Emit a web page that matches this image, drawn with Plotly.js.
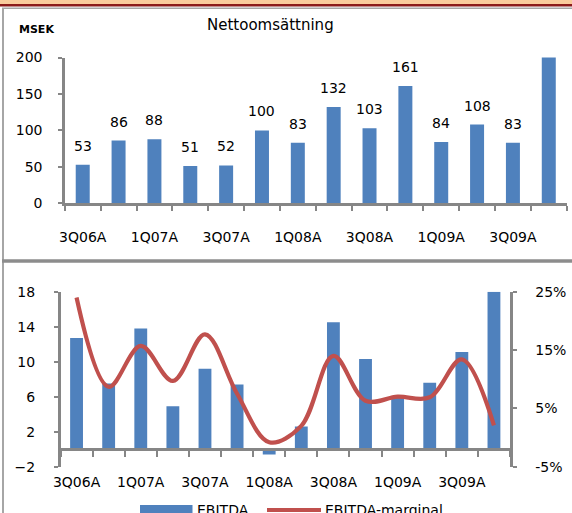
<!DOCTYPE html>
<html>
<head>
<meta charset="utf-8">
<script src="https://cdn.plot.ly/plotly-3.0.1.min.js"></script>
<style>
html,body{margin:0;padding:0;background:#fff;}
#chart{width:572px;height:513px;}
</style>
</head>
<body>
<div id="chart"></div>
<script>
// ---- data ----
const categories = ["3Q06A","4Q06A","1Q07A","2Q07A","3Q07A","4Q07A","1Q08A","2Q08A","3Q08A","4Q08A","1Q09A","2Q09A","3Q09A","4Q09A"];
const netSales = [53, 86, 88, 51, 52, 100, 83, 132, 103, 161, 84, 108, 83, 857];
const ebitda = [12.7, 7.5, 13.8, 4.9, 9.2, 7.4, -0.6, 2.6, 14.5, 10.3, 6.0, 7.6, 11.1, 18.0];
const ebitdaMargin = [24.0, 8.7, 15.7, 9.7, 17.7, 7.5, -0.8, 2.0, 14.0, 6.3, 7.0, 6.9, 13.4, 2.1];
const topTicks = [0, 50, 100, 150, 200];
const leftTicks = [-2, 2, 6, 10, 14, 18];
const rightTicks = [-5, 5, 15, 25];

// ---- helpers ----
const W = 572, H = 513;
const FONT = "'DejaVu Sans', Verdana, sans-serif";
const AX = "#868686";
const BLUE = "#4F81BD";
const RED = "#C0504D";
const px = v => v / W;
const py = v => 1 - v / H;
const idx = categories.map((c, i) => i);
const labelIdx = idx.filter(i => i % 2 === 0);

const topRange = [0, 200];
const botRange = [-2, 18];
const rightRange = [-5, 25];
const botDomain = [py(466.7), py(291.7)];
const zeroPos = botDomain[0] + (0 - botRange[0]) / (botRange[1] - botRange[0]) * (botDomain[1] - botDomain[0]);

const tickFont = {family: FONT, size: 14, color: "#000"};

const traces = [
  {type: "bar", x: idx, y: netSales, xaxis: "x", yaxis: "y", width: 0.39,
   marker: {color: BLUE}, hoverinfo: "skip", showlegend: false},
  {type: "bar", x: idx, y: ebitda, xaxis: "x2", yaxis: "y2", width: 0.40,
   marker: {color: BLUE}, name: "EBITDA", showlegend: false},
  {type: "scatter", mode: "lines", x: idx, y: ebitdaMargin, xaxis: "x2", yaxis: "y3",
   line: {color: RED, width: 4.2, shape: "spline", smoothing: 1}, name: "EBITDA-marginal", showlegend: false}
];

const annotations = netSales
  .map((v, i) => ({v, i}))
  .filter(o => o.v <= topRange[1])
  .map(o => ({x: o.i, y: o.v, xref: "x", yref: "y", text: String(o.v), showarrow: false,
    yanchor: "bottom", yshift: 9, font: {family: FONT, size: 14, color: "#000"}}));

annotations.push(
  {xref: "paper", yref: "paper", x: px(270), y: py(25), text: "Nettoomsättning", showarrow: false,
   xanchor: "center", yanchor: "middle", font: {family: FONT, size: 15, color: "#000"}},
  {xref: "paper", yref: "paper", x: px(17), y: py(29), text: "<b>MSEK</b>", showarrow: false,
   xanchor: "left", yanchor: "middle", font: {family: FONT, size: 11, color: "#000"}},
  {xref: "paper", yref: "paper", x: px(195), y: py(510), text: "EBITDA", showarrow: false,
   xanchor: "left", yanchor: "middle", font: {family: FONT, size: 14, color: "#000"}},
  {xref: "paper", yref: "paper", x: px(323), y: py(510), text: "EBITDA-marginal", showarrow: false,
   xanchor: "left", yanchor: "middle", font: {family: FONT, size: 14, color: "#000"}}
);

const shapes = [
  {type: "rect", xref: "paper", yref: "paper", x0: 0, x1: 1, y0: py(4), y1: 1, fillcolor: "#F9CB9C", line: {width: 0}},
  {type: "rect", xref: "paper", yref: "paper", x0: 0, x1: 1, y0: py(6.5), y1: py(4), fillcolor: "#8B1A1A", line: {width: 0}},
  {type: "line", xref: "paper", yref: "paper", x0: px(2), x1: 1, y0: py(8.3), y1: py(8.3), line: {color: "#A6A6A6", width: 1.6}},
  {type: "line", xref: "paper", yref: "paper", x0: px(3), x1: px(3), y0: py(8), y1: 0, line: {color: "#A6A6A6", width: 2}},
  {type: "line", xref: "paper", yref: "paper", x0: px(2), x1: 1, y0: py(261), y1: py(261), line: {color: "#8C8C8C", width: 3.5}},
  // legend swatches
  {type: "rect", xref: "paper", yref: "paper", x0: px(140), x1: px(192.5), y0: py(515), y1: py(505), fillcolor: BLUE, line: {width: 0}},
  {type: "line", xref: "paper", yref: "paper", x0: px(267), x1: px(321), y0: py(510), y1: py(510), line: {color: RED, width: 4.2}}
];

const minorBoundaries = idx.concat([categories.length]).map(i => i - 0.5);

const layout = {
  width: W, height: H,
  margin: {l: 0, r: 0, t: 0, b: 0, autoexpand: false},
  paper_bgcolor: "#fff", plot_bgcolor: "rgba(0,0,0,0)",
  showlegend: false,
  font: {family: FONT, size: 14, color: "#000"},
  xaxis: {
    domain: [px(64.8), px(566.7)], anchor: "y", range: [-0.5, categories.length - 0.5],
    tickmode: "array", tickvals: labelIdx, ticktext: labelIdx.map(i => categories[i]),
    ticks: "", ticklabelstandoff: 19, tickfont: tickFont,
    minor: {tickmode: "array", tickvals: minorBoundaries, ticks: "outside", ticklen: 5, tickwidth: 2, tickcolor: AX},
    showline: true, linecolor: AX, linewidth: 2.5, showgrid: false, zeroline: false, fixedrange: true
  },
  yaxis: {
    domain: [py(203.3), py(57.5)], anchor: "x", range: topRange,
    tickmode: "array", tickvals: topTicks, ticks: "outside", ticklen: 4, tickwidth: 2, tickcolor: AX,
    ticklabelstandoff: 13, tickfont: tickFont,
    showline: true, linecolor: AX, linewidth: 2.5, showgrid: false, zeroline: false, fixedrange: true
  },
  xaxis2: {
    domain: [px(60.5), px(510)], anchor: "free", position: zeroPos, range: [-0.5, categories.length - 0.5],
    tickmode: "array", tickvals: labelIdx, ticktext: labelIdx.map(i => categories[i]),
    ticks: "", ticklabelstandoff: 19, tickfont: tickFont,
    minor: {tickmode: "array", tickvals: minorBoundaries, ticks: "outside", ticklen: 6, tickwidth: 2, tickcolor: AX},
    showline: true, linecolor: AX, linewidth: 2.5, showgrid: false, zeroline: false, fixedrange: true
  },
  yaxis2: {
    domain: botDomain, anchor: "x2", range: botRange,
    tickmode: "array", tickvals: leftTicks, ticks: "outside", ticklen: 4, tickwidth: 2, tickcolor: AX,
    ticklabelstandoff: 16, tickfont: tickFont,
    showline: true, linecolor: AX, linewidth: 2.5, showgrid: false, zeroline: false, fixedrange: true
  },
  yaxis3: {
    overlaying: "y2", side: "right", anchor: "x2", range: rightRange,
    tickmode: "array", tickvals: rightTicks, ticktext: rightTicks.map(v => v + "%"),
    ticks: "outside", ticklen: 4, tickwidth: 2, tickcolor: AX,
    ticklabelstandoff: 16, tickfont: tickFont,
    showline: true, linecolor: AX, linewidth: 2.5, showgrid: false, zeroline: false, fixedrange: true
  },
  shapes: shapes,
  annotations: annotations
};

Plotly.newPlot("chart", traces, layout, {staticPlot: true, displayModeBar: false});
</script>
</body>
</html>
